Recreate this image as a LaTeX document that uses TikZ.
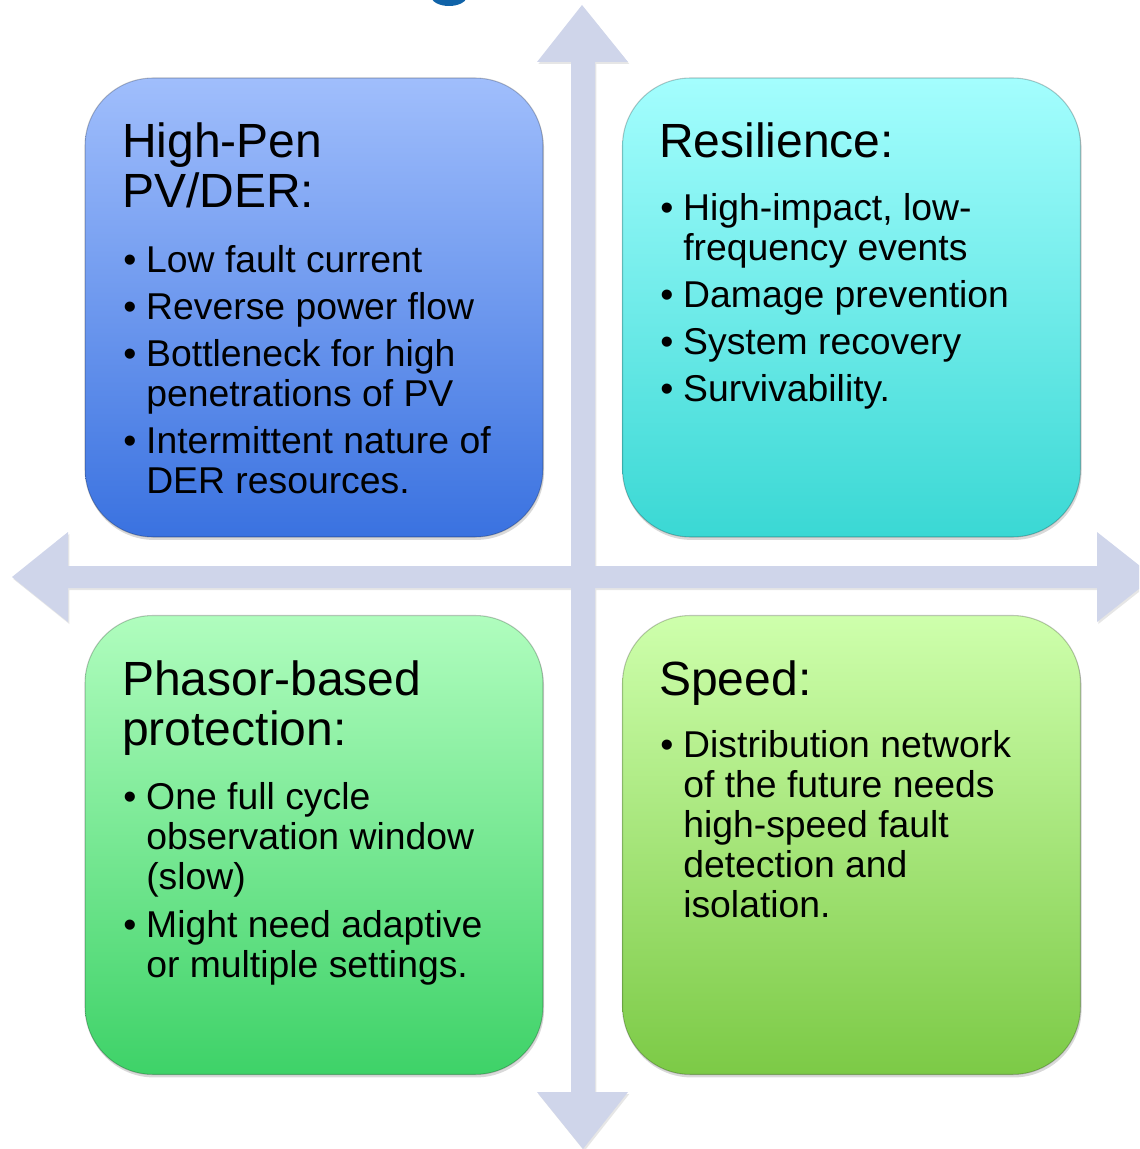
\documentclass[tikz,border=0pt]{standalone}
\usepackage{fontspec}
\setmainfont{Liberation Sans}
\usetikzlibrary{shadows}

\definecolor{axisfill}{RGB}{207,213,234}
\definecolor{glyphblue}{RGB}{16,99,168}
\definecolor{tltop}{RGB}{160,190,252}
\definecolor{tlbot}{RGB}{58,114,224}
\definecolor{trtop}{RGB}{164,254,254}
\definecolor{trbot}{RGB}{58,216,212}
\definecolor{bltop}{RGB}{176,253,190}
\definecolor{blbot}{RGB}{62,210,104}
\definecolor{brtop}{RGB}{206,255,172}
\definecolor{brbot}{RGB}{124,202,70}

% bullet and hanging indent for list lines
\newcommand\bul{\makebox[17.25pt][l]{•}}
\newcommand\ind{\makebox[17.25pt]{}}
% stacked lines whose baseline is that of the first line
\newcommand\tlines[1]{\begin{tabular}[t]{@{}l@{}}#1\end{tabular}}

\begin{document}
\begin{tikzpicture}[x=0.75pt,y=-0.75pt,
  quad/.style={rectangle, rounded corners=51pt, minimum width=343.5pt,
    minimum height=344.25pt, inner sep=0pt,
    draw=black, draw opacity=0.22, line width=0.8pt,
    drop shadow={shadow xshift=0.8pt, shadow yshift=-2.2pt, opacity=0.3}},
  ttl/.style={anchor=base west, inner sep=0pt,
    font=\fontsize{36pt}{37.5pt}\selectfont},
  itm/.style={anchor=base west, inner sep=0pt,
    font=\fontsize{28pt}{30pt}\selectfont}]
\useasboundingbox (0,0) rectangle (1139,1149);
\begin{scope}
\clip (0,0) rectangle (1139,1149);
% descender of the heading above
\fill[glyphblue] (449,-4) ellipse [x radius=18, y radius=10];
% four-way axis cross
\fill[axisfill, drop shadow={shadow xshift=1pt, shadow yshift=-1.5pt, opacity=0.2}]
  (582,5) -- (628,62) -- (595,62) -- (595,566) -- (1097,566) -- (1097,532)
  -- (1154,577) -- (1097,622) -- (1097,588) -- (595,588) -- (595,1092)
  -- (628,1092) -- (583,1149) -- (537,1092) -- (571,1092) -- (571,588)
  -- (68,588) -- (68,622) -- (12,577) -- (68,532) -- (68,566) -- (571,566)
  -- (571,62) -- (537,62) -- cycle;
\end{scope}

% quadrant panels
\node[quad, top color=tltop, bottom color=tlbot] (tl) at (314,307.5) {};
\node[quad, top color=trtop, bottom color=trbot] (tr) at (851.5,307.5) {};
\node[quad, top color=bltop, bottom color=blbot] (bl) at (314,845) {};
\node[quad, top color=brtop, bottom color=brbot] (br) at (851.5,845) {};

% High-Pen PV/DER
\node[ttl] (tlt) at (122,157) {\tlines{High-Pen\\PV/DER:}};
\node[itm] (tl1) at (123,272) {\tlines{\bul Low fault current}};
\node[itm] (tl2) at (123,319) {\tlines{\bul Reverse power flow}};
\node[itm] (tl3) at (123,366) {\tlines{\bul Bottleneck for high\\\ind penetrations of PV}};
\node[itm] (tl4) at (123,453) {\tlines{\bul Intermittent nature of\\\ind DER resources.}};

% Resilience
\node[ttl] (trt) at (659,157) {\tlines{Resilience:}};
\node[itm] (tr1) at (660,220) {\tlines{\bul High-impact, low-\\\ind frequency events}};
\node[itm] (tr2) at (660,307) {\tlines{\bul Damage prevention}};
\node[itm] (tr3) at (660,354) {\tlines{\bul System recovery}};
\node[itm] (tr4) at (660,401) {\tlines{\bul Survivability.}};

% Phasor-based protection
\node[ttl] (blt) at (122,695) {\tlines{Phasor-based\\protection:}};
\node[itm] (bl1) at (123,809) {\tlines{\bul One full cycle\\\ind observation window\\\ind (slow)}};
\node[itm] (bl2) at (123,937) {\tlines{\bul Might need adaptive\\\ind or multiple settings.}};

% Speed
\node[ttl] (brt) at (659,695) {\tlines{Speed:}};
\node[itm] (br1) at (660,757) {\tlines{\bul Distribution network\\\ind of the future needs\\\ind high-speed fault\\\ind detection and\\\ind isolation.}};
\end{tikzpicture}
\end{document}
